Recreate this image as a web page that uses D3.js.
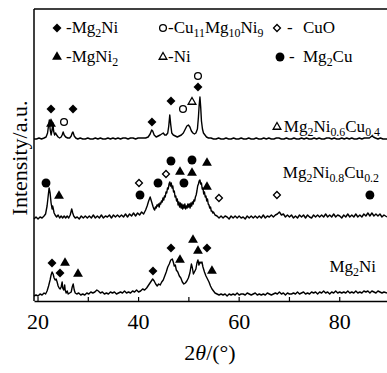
<!DOCTYPE html>
<html>
<head>
<meta charset="utf-8">
<script src="https://d3js.org/d3.v7.min.js"></script>
<style>
  body { margin: 0; background: #fff; }
  text { font-family: "Liberation Serif", "Times New Roman", Times, "DejaVu Serif", serif; fill: #000; }
</style>
</head>
<body>
<div id="my_dataviz"></div>
<script>

// XRD patterns, [2theta, intensity + offset]
var mg2niPts = [[19.3,5],[19.7,6],[20.1,5],[20.5,7],[20.9,6],[21.3,8],[21.6,7],[21.9,10],[22.2,15],[22.5,21],[22.7,26],[22.9,29],[23.1,27],[23.3,23],[23.5,21],[23.7,22],[23.9,19],[24.1,15],[24.3,13],[24.5,12],[24.7,14],[24.9,19],[25.0,13],[25.2,11],[25.4,16],[25.5,11],[25.7,8],[25.9,10],[26.1,7],[26.4,8],[26.7,9],[26.9,14],[27.1,17],[27.3,11],[27.5,8],[27.8,7],[28.2,8],[28.6,6],[29.0,7],[29.4,6],[29.8,8],[30.2,7],[30.6,9],[31.0,8],[31.4,9],[31.8,11],[32.1,10],[32.5,8],[32.9,9],[33.3,7],[33.7,8],[34.1,7],[34.5,9],[34.9,8],[35.3,9],[35.7,7],[36.1,8],[36.5,9],[36.9,8],[37.3,10],[37.7,8],[38.1,9],[38.5,8],[38.9,10],[39.3,9],[39.7,11],[40.1,9],[40.5,10],[40.9,12],[41.3,11],[41.7,13],[42.1,16],[42.5,19],[42.9,22],[43.2,20],[43.5,17],[43.8,15],[44.1,17],[44.4,16],[44.7,19],[45.0,21],[45.3,25],[45.6,29],[45.9,34],[46.2,37],[46.5,41],[46.8,42],[47.0,39],[47.2,35],[47.4,36],[47.6,31],[47.9,29],[48.2,25],[48.5,23],[48.8,19],[49.1,17],[49.4,18],[49.7,20],[50.0,23],[50.3,28],[50.6,37],[50.8,33],[51.0,27],[51.2,29],[51.5,32],[51.7,38],[51.9,41],[52.1,36],[52.3,39],[52.5,38],[52.7,39],[52.9,34],[53.2,29],[53.5,25],[53.8,22],[54.1,19],[54.4,15],[54.7,12],[55.0,10],[55.3,8],[55.7,7],[56.1,6],[56.5,7],[56.9,6],[57.3,7],[57.7,5],[58.1,7],[58.5,6],[58.9,7],[59.3,6],[59.7,8],[60.1,6],[60.5,7],[60.9,7],[61.3,6],[61.7,8],[62.1,7],[62.5,6],[62.9,7],[63.3,8],[63.7,6],[64.1,7],[64.5,6],[64.9,7],[65.3,6],[65.7,8],[66.1,7],[66.5,6],[66.9,7],[67.3,8],[67.7,7],[68.1,9],[68.5,7],[68.9,8],[69.3,6],[69.7,8],[70.1,7],[70.5,7],[70.9,8],[71.3,7],[71.7,9],[72.1,7],[72.5,8],[72.9,9],[73.3,7],[73.7,8],[74.1,7],[74.5,9],[74.9,8],[75.3,9],[75.7,7],[76.1,9],[76.5,8],[76.9,10],[77.3,8],[77.7,9],[78.1,7],[78.5,9],[78.9,8],[79.3,10],[79.7,8],[80.1,9],[80.5,8],[80.9,9],[81.3,8],[81.7,10],[82.1,8],[82.5,9],[82.9,8],[83.3,10],[83.7,8],[84.1,9],[84.5,8],[84.9,10],[85.3,9],[85.7,10],[86.1,8],[86.5,10],[86.9,9],[87.3,8],[87.7,10],[88.1,9],[88.5,8],[88.9,9],[89.5,8]];

var cu02Pts = [[19.3,82],[19.7,84],[20.1,82],[20.5,84],[20.9,83],[21.3,85],[21.6,87],[21.9,95],[22.1,104],[22.3,113],[22.5,108],[22.7,98],[22.9,92],[23.0,95],[23.1,93],[23.3,88],[23.5,86],[23.8,84],[24.1,86],[24.4,83],[24.7,85],[25.0,83],[25.3,85],[25.6,83],[25.9,85],[26.2,83],[26.5,86],[26.8,92],[27.0,88],[27.2,85],[27.5,83],[27.9,84],[28.3,82],[28.7,85],[29.1,83],[29.5,85],[29.9,83],[30.3,85],[30.7,83],[31.1,86],[31.5,83],[31.9,85],[32.3,83],[32.7,86],[33.1,83],[33.5,85],[33.9,84],[34.3,86],[34.7,83],[35.1,86],[35.5,84],[35.9,86],[36.3,84],[36.7,86],[37.1,84],[37.5,87],[37.9,84],[38.3,87],[38.7,85],[39.1,88],[39.5,85],[39.9,88],[40.3,86],[40.7,89],[41.1,87],[41.5,91],[41.8,95],[42.1,100],[42.4,104],[42.7,99],[43.0,94],[43.15,92],[43.3,91],[43.45,94],[43.6,93],[43.75,96],[43.9,95],[44.05,97],[44.2,94],[44.35,98],[44.5,97],[44.65,100],[44.8,99],[44.95,103],[45.1,101],[45.25,105],[45.4,104],[45.55,109],[45.7,108],[45.85,113],[46.0,112],[46.15,117],[46.3,119],[46.45,115],[46.6,118],[46.75,113],[46.9,115],[47.05,109],[47.2,110],[47.35,104],[47.5,105],[47.65,100],[47.8,102],[47.95,96],[48.1,99],[48.25,94],[48.4,98],[48.55,93],[48.7,97],[48.85,92],[49.0,96],[49.15,93],[49.3,97],[49.45,92],[49.6,95],[49.75,93],[49.9,97],[50.05,94],[50.2,97],[50.35,93],[50.5,98],[50.65,95],[50.8,99],[50.95,97],[51.1,101],[51.25,100],[51.4,104],[51.55,106],[51.7,110],[51.85,115],[52.0,117],[52.15,120],[52.3,121],[52.45,117],[52.6,118],[52.75,112],[52.9,113],[53.05,107],[53.2,109],[53.35,104],[53.5,105],[53.65,100],[53.8,102],[53.95,97],[54.1,96],[54.25,93],[54.4,94],[54.55,90],[54.7,90],[54.85,88],[55.0,89],[55.3,86],[55.7,85],[56.1,83],[56.5,85],[56.9,83],[57.3,85],[57.7,84],[58.1,82],[58.5,85],[58.9,83],[59.3,85],[59.7,83],[60.1,85],[60.5,83],[60.9,84],[61.3,82],[61.7,85],[62.1,83],[62.5,85],[62.9,83],[63.3,85],[63.7,83],[64.1,85],[64.5,83],[64.9,86],[65.3,83],[65.7,85],[66.1,84],[66.5,86],[66.9,84],[67.3,86],[67.7,87],[68.1,89],[68.5,86],[68.9,87],[69.3,84],[69.7,86],[70.1,84],[70.5,86],[70.9,83],[71.3,85],[71.7,83],[72.1,86],[72.5,84],[72.9,86],[73.3,83],[73.7,86],[74.1,84],[74.5,83],[74.9,86],[75.3,84],[75.7,86],[76.1,84],[76.5,86],[76.9,84],[77.3,87],[77.7,84],[78.1,86],[78.5,84],[78.9,87],[79.3,84],[79.7,86],[80.1,85],[80.5,83],[80.9,86],[81.3,84],[81.7,87],[82.1,84],[82.5,86],[82.9,84],[83.3,87],[83.7,84],[84.1,86],[84.5,84],[84.9,87],[85.3,85],[85.7,88],[86.1,85],[86.5,88],[86.9,85],[87.3,87],[87.7,85],[88.1,87],[88.5,84],[88.9,86],[89.5,84]];

var cu04Pts = [[19.3,162],[19.8,162],[20.3,163],[20.8,162],[21.3,163],[21.7,164],[22.0,168],[22.2,176],[22.35,181],[22.5,172],[22.7,166],[22.9,171],[23.05,178],[23.2,170],[23.4,166],[23.6,168],[23.8,166],[24.1,164],[24.4,163],[24.7,164],[24.9,166],[25.1,169],[25.3,166],[25.6,164],[26.0,163],[26.4,163],[26.7,165],[26.9,168],[27.05,169],[27.3,165],[27.6,163],[28.0,162],[28.5,163],[29.0,162],[29.5,162],[30.0,163],[30.5,162],[31.0,162],[31.5,163],[32.0,162],[32.5,163],[33.0,162],[33.5,162],[34.0,163],[34.5,162],[35.0,163],[35.5,162],[36.0,163],[36.5,162],[37.0,163],[37.5,163],[38.0,162],[38.5,163],[39.0,163],[39.5,162],[40.0,163],[40.5,163],[41.0,163],[41.5,163],[42.0,164],[42.4,167],[42.7,171],[42.9,170],[43.2,166],[43.6,164],[44.0,165],[44.4,166],[44.7,167],[45.0,168],[45.3,166],[45.6,166],[45.9,168],[46.1,175],[46.3,186],[46.5,176],[46.7,168],[47.0,166],[47.4,165],[47.8,164],[48.2,165],[48.6,166],[49.0,168],[49.4,172],[49.7,175],[50.0,176],[50.3,174],[50.6,170],[50.9,168],[51.2,167],[51.5,168],[51.8,172],[52.0,184],[52.15,196],[52.3,204],[52.45,194],[52.6,180],[52.8,172],[53.0,168],[53.3,166],[53.6,164],[54.0,163],[54.5,163],[55.0,162],[55.5,162],[56.0,163],[56.5,162],[57.0,162],[57.5,163],[58.0,162],[58.5,162],[59.0,163],[59.5,162],[60.0,162],[60.5,163],[61.0,162],[61.5,162],[62.0,163],[62.5,162],[63.0,162],[63.5,163],[64.0,162],[64.5,162],[65.0,163],[65.5,162],[66.0,163],[66.5,162],[67.0,162],[67.5,163],[68.0,163],[68.5,162],[69.0,162],[69.5,163],[70.0,162],[70.5,162],[71.0,163],[71.5,162],[72.0,162],[72.5,163],[73.0,162],[73.5,163],[74.0,162],[74.5,162],[75.0,163],[75.5,162],[76.0,163],[76.5,162],[77.0,162],[77.5,163],[78.0,163],[78.5,162],[79.0,163],[79.5,162],[80.0,162],[80.5,163],[81.0,162],[81.5,163],[82.0,162],[82.5,163],[83.0,162],[83.5,162],[84.0,163],[84.5,162],[85.0,163],[85.5,163],[86.0,163],[86.5,165],[86.8,164],[87.2,163],[87.7,162],[88.2,163],[88.7,162],[89.5,162]];

// phase markers: [type, 2theta, level]
var mg2niMarks = [["dia",22.88,38],["tri",25.47,38],["dia",24.47,28],["tri",28.05,27],["dia",42.96,30],["dia",46.54,53],["tri",48.33,41],["tri",50.92,61],["tri",51.91,50],["dia",53.70,53],["tri",54.69,30]];
var cu02Marks = [["dot",21.69,118],["tri",24.27,105],["diaO",40.18,118],["dot",40.38,106],["dot",43.96,118],["diaO",45.55,127],["dot",46.54,140],["tri",48.33,129],["dot",49.12,118],["dot",50.72,141],["tri",50.72,128],["tri",53.70,138],["tri",53.70,114],["diaO",56.08,103],["diaO",67.61,106],["dot",86.10,106]];
var cu04Marks = [["dia",22.68,192],["tri",22.68,177],["circO",25.27,179],["dia",27.06,192],["dia",42.76,179],["dia",46.54,200],["circO",48.93,192],["triO",50.72,199],["dia",51.91,214],["circO",51.91,225]];

var xTicks = [20, 30, 40, 50, 60, 70, 80];
var xLabels = ["20", "", "40", "", "60", "", "80"];

var width = 387, height = 373;
var svg = d3.select("#my_dataviz").append("svg")
    .attr("width", width).attr("height", height);

var x = d3.scaleLinear().domain([19.3, 89.5]).range([34, 387]);
var y = d3.scaleLinear().domain([0, 292]).range([301, 9]);

// frame: top and left lines
svg.append("line").attr("x1", 34).attr("x2", 387).attr("y1", 9).attr("y2", 9)
    .attr("stroke", "#000").attr("stroke-width", 1.5);
svg.append("line").attr("x1", 34).attr("x2", 34).attr("y1", 9).attr("y2", 301)
    .attr("stroke", "#000").attr("stroke-width", 1.5);

// x axis, ticks inward
var xAxis = svg.append("g")
    .attr("transform", "translate(0,301)")
    .call(d3.axisBottom(x).tickValues(xTicks)
      .tickFormat(function(d, i) { return xLabels[i]; })
      .tickSize(-4).tickSizeOuter(0).tickPadding(12));
xAxis.attr("font-family", null);
xAxis.select(".domain").attr("stroke-width", 1.5);
xAxis.selectAll(".tick line").attr("stroke-width", 1.2);
xAxis.selectAll("text").style("font-size", "22px");

// spectra
var line = d3.line().x(function(d) { return x(d[0]); }).y(function(d) { return y(d[1]); });
[mg2niPts, cu02Pts, cu04Pts].forEach(function(pts) {
  svg.append("path").datum(pts)
    .attr("d", line)
    .attr("fill", "none").attr("stroke", "#000").attr("stroke-width", 1.4)
    .attr("stroke-linejoin", "round");
});

// marker shapes
function drawMark(g, type, cx, cy) {
  var s;
  if (type == "dia" || type == "diaO") {
    s = g.append("path").attr("d", d3.symbol(d3.symbolSquare, type == "dia" ? 40 : 24)())
      .attr("transform", "translate(" + cx + "," + cy + ") rotate(45)");
  } else if (type == "tri" || type == "triO") {
    s = g.append("path").attr("d", d3.symbol(d3.symbolTriangle, type == "tri" ? 42 : 26)())
      .attr("transform", "translate(" + cx + "," + cy + ")");
  } else {
    s = g.append("path").attr("d", d3.symbol(d3.symbolCircle, type == "dot" ? 62 : 36)())
      .attr("transform", "translate(" + cx + "," + cy + ")");
  }
  if (type.slice(-1) == "O") {
    s.attr("fill", "#fff").attr("stroke", "#000").attr("stroke-width", 1.3);
  } else {
    s.attr("fill", "#000");
  }
}

var markG = svg.append("g");
[mg2niMarks, cu02Marks, cu04Marks].forEach(function(arr) {
  arr.forEach(function(m) { drawMark(markG, m[0], x(m[1]), y(m[2])); });
});

// text with subscripts: parts = [[text, sub?], ...]
function richText(g, px, py, parts, size, anchor) {
  var t = g.append("text").attr("x", px).attr("y", py)
    .style("font-size", size + "px").attr("text-anchor", anchor || "start");
  var shifted = false;
  parts.forEach(function(p) {
    var ts = t.append("tspan").text(p[0]);
    if (p[1] && !shifted) { ts.attr("dy", 4).style("font-size", (size * 0.7) + "px"); shifted = true; }
    else if (p[1]) { ts.style("font-size", (size * 0.7) + "px"); }
    else if (shifted) { ts.attr("dy", -4); shifted = false; }
  });
  return t;
}

// legend
var lg = svg.append("g");
drawMark(lg, "dia", 57, 28);
richText(lg, 66, 33, [["-Mg"], ["2", 1], ["Ni"]], 17);
drawMark(lg, "circO", 163, 28);
richText(lg, 168, 33, [["-Cu"], ["11", 1], ["Mg"], ["10", 1], ["Ni"], ["9", 1]], 17);
drawMark(lg, "diaO", 277, 28);
lg.append("text").attr("x", 287).attr("y", 33).style("font-size", "17px").text("-");
lg.append("text").attr("x", 303).attr("y", 33).style("font-size", "17px").text("CuO");

drawMark(lg, "tri", 57, 57);
richText(lg, 66, 62, [["-MgNi"], ["2", 1]], 17);
drawMark(lg, "triO", 163, 57);
lg.append("text").attr("x", 168).attr("y", 62).style("font-size", "17px").text("-Ni");
drawMark(lg, "dot", 280, 57);
lg.append("text").attr("x", 289).attr("y", 62).style("font-size", "17px").text("-");
richText(lg, 303, 62, [["Mg"], ["2", 1], ["Cu"]], 17);

// sample labels
drawMark(lg, "triO", 277, 127);
richText(svg, 380, 132, [["Mg"], ["2", 1], ["Ni"], ["0.6", 1], ["Cu"], ["0.4", 1]], 17, "end");
richText(svg, 379, 178, [["Mg"], ["2", 1], ["Ni"], ["0.8", 1], ["Cu"], ["0.2", 1]], 17, "end");
richText(svg, 376, 272, [["Mg"], ["2", 1], ["Ni"]], 17, "end");

// axis titles
var xt = svg.append("text").attr("x", 210).attr("y", 360)
    .attr("text-anchor", "middle").style("font-size", "22px");
xt.append("tspan").text("2");
xt.append("tspan").style("font-style", "italic").text("θ");
xt.append("tspan").text("/(°)");

svg.append("text")
    .attr("transform", "translate(27,158) rotate(-90)")
    .attr("text-anchor", "middle").style("font-size", "22px")
    .text("Intensity/a.u.");

</script>
</body>
</html>
